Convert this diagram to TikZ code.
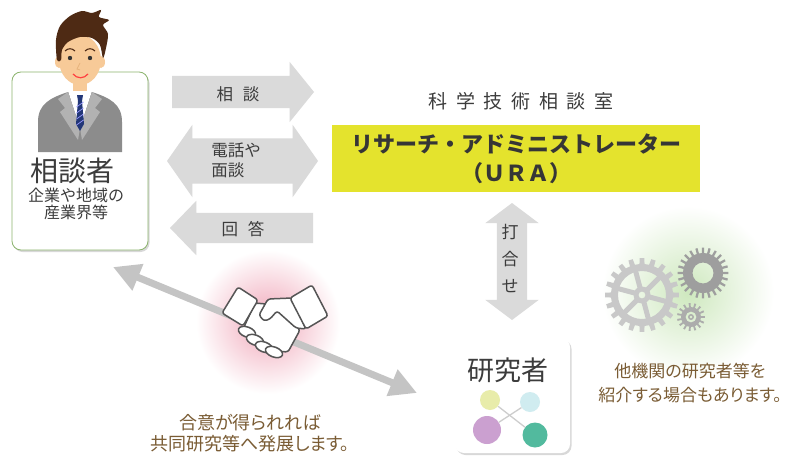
\documentclass[tikz,border=0pt]{standalone}
\usepackage{fontspec}
\setmainfont{Noto Sans CJK JP}
\usetikzlibrary{shapes.arrows,arrows.meta,shadows}

\definecolor{ink}{RGB}{60,60,60}
\definecolor{noteBrown}{RGB}{122,92,52}
\definecolor{arrowGray}{RGB}{218,218,218}
\definecolor{dealGray}{RGB}{196,196,196}
\definecolor{uraYellow}{RGB}{228,227,45}
\definecolor{frameGreen}{RGB}{140,180,110}
\definecolor{glowPink}{RGB}{240,166,184}
\definecolor{glowGreen}{RGB}{206,232,190}
\definecolor{handGray}{RGB}{85,85,85}
\definecolor{gearLight}{RGB}{200,200,200}
\definecolor{gearMid}{RGB}{158,158,158}
\definecolor{gearSmall}{RGB}{172,172,172}
\definecolor{dotYellow}{RGB}{232,236,170}
\definecolor{dotCyan}{RGB}{208,236,240}
\definecolor{dotPurple}{RGB}{203,160,208}
\definecolor{dotTeal}{RGB}{82,186,158}
\definecolor{linkGray}{RGB}{205,205,205}
\definecolor{skin}{RGB}{247,202,152}
\definecolor{hair}{RGB}{78,42,20}
\definecolor{suitGray}{RGB}{140,140,140}
\definecolor{lapelGray}{RGB}{178,178,178}
\definecolor{tieNavy}{RGB}{35,55,120}

\begin{document}
\begin{tikzpicture}[x=1pt,y=-1pt,
  blockarrow/.style={fill=arrowGray,inner xsep=0pt,outer sep=0pt},
  lbl/.style={text=ink,inner sep=0pt,font=\fontsize{16.5}{20}\selectfont},
  note/.style={text=noteBrown,inner sep=0pt,align=center,
    font=\fontsize{18}{21}\selectfont\addfontfeatures{CharacterWidth=AlternateProportional}},
  card/.style={fill=white,rounded corners=9pt,inner sep=0pt,
    drop shadow={opacity=.3,shadow xshift=1.5pt,shadow yshift=-2pt}},
  handline/.style={draw=handGray,fill=white,line width=1.5pt,line join=round,rounded corners=2.5pt},
  blob/.style={circle,inner sep=0pt,minimum size=#1}]

  \fill[white] (0,0) rectangle (789,460);
  \useasboundingbox (0,0) rectangle (789,460);

  % soft glows behind the handshake and the gears
  \shade[inner color=glowPink,outer color=white] (268,322) circle (72);
  \shade[inner color=glowGreen,outer color=white] (688,292) circle (86);

  % client card with the figure
  \node[card,draw=frameGreen,line width=.8pt,minimum width=136pt,minimum height=178pt] (client) at (80,161) {};
  \fill[suitGray] (38,152) -- (38,122) .. controls (38,104) and (50,98) .. (68,92) -- (92,92)
    .. controls (110,98) and (122,104) .. (122,122) -- (122,152) -- cycle;
  \fill[skin] (73,78) rectangle (87,95);
  \fill[white] (68,91) -- (92,91) -- (80,128) -- cycle;
  \fill[lapelGray] (68,92) -- (58,99) -- (65,108) -- (60,112) -- (78,140) -- (80,128) -- cycle;
  \fill[lapelGray] (92,92) -- (102,99) -- (95,108) -- (100,112) -- (82,140) -- (80,128) -- cycle;
  \fill[tieNavy] (77,95) -- (83,95) -- (82,101) -- (78,101) -- cycle;
  \fill[tieNavy] (78,101) -- (82,101) -- (84,124) -- (80,131) -- (76,124) -- cycle;
  \foreach \s in {104,110,116,122}
    \draw[blue!40!white,line width=.7pt] (76.5,\s+3) -- (83.5,\s-2);
  \fill[skin] (59,62) ellipse (4 and 6) (101,62) ellipse (4 and 6);
  \fill[skin] (80,60) ellipse (21 and 25);
  \fill[hair] plot[smooth cycle] coordinates {(57,60) (56,40) (60,26) (70,16) (82,11) (92,13)
    (101,10) (99,17) (109,20) (103,25) (108,34) (106,48) (103,58) (100,45) (92,38) (80,37)
    (68,42) (62,50) (61,60)};
  \fill[black!80] (70,58) circle (2.2) (90,58) circle (2.2);
  \draw[hair,line width=1.1pt] (65,51) .. controls (68,48) and (72,48) .. (75,51);
  \draw[hair,line width=1.1pt] (85,51) .. controls (88,48) and (92,48) .. (95,51);
  \draw[skin!70!brown,line width=.8pt] (80,63) -- (77,69) -- (80,70);
  \draw[red!75!white,line width=1.2pt] (73,74) .. controls (77,79) and (84,79) .. (88,74);
  \node[text=ink,inner sep=0pt,font=\fontsize{28}{30}\selectfont] (clientname) at (72,171) {相談者};
  \node[lbl,align=center,font=\fontsize{16}{17}\selectfont] (clientsub) at (76,203.5) {企業や地域の\\産業界等};

  % block arrows between client and office
  \node[blockarrow,single arrow,inner ysep=16pt,single arrow head extend=14pt,single arrow tip angle=102,
    minimum width=60pt,minimum height=142pt,anchor=tail] (askarrow) at (172,92) {};
  \node[blockarrow,double arrow,inner ysep=22.5pt,double arrow head extend=13.5pt,double arrow tip angle=110,
    minimum width=72pt,minimum height=151pt] (talkarrow) at (242.5,161) {};
  \node[blockarrow,single arrow,shape border rotate=180,inner ysep=15pt,single arrow head extend=12pt,
    single arrow tip angle=92,minimum width=54pt,minimum height=143pt,anchor=tip] (replyarrow) at (170,228) {};
  \node[lbl] (asktext) at (238,94) {相\hspace{.6em}談};
  \node[lbl,align=left] (talktext) at (236,160) {電話や\\面談};
  \node[lbl] (replytext) at (243,229) {回\hspace{.6em}答};

  % office and URA
  \node[text=ink,inner sep=0pt,font=\fontsize{19}{22}\selectfont\addfontfeatures{LetterSpace=45}]
    (office) at (521,101) {科学技術相談室};
  \node[fill=uraYellow,inner sep=0pt,minimum width=368pt,minimum height=67pt,align=center,
    text=ink!90!black,font=\fontsize{22}{29}\selectfont\bfseries] (ura) at (516,158.5)
    {リサーチ・アドミニストレーター\\（ＵＲＡ）};

  % meeting arrow
  \node[blockarrow,double arrow,rotate=90,inner ysep=15pt,double arrow head extend=11.5pt,
    double arrow tip angle=106,minimum width=53pt,minimum height=117pt] (mtgarrow) at (512,261.5) {};
  \node[lbl,align=center,font=\fontsize{17}{27}\selectfont] (mtgtext) at (510,259) {打\\合\\せ};

  % researcher card
  \node[card,minimum width=115pt,minimum height=115pt] (researcher) at (512.5,395.5) {};
  \node[text=ink,inner sep=0pt,font=\fontsize{27}{30}\selectfont] (restext) at (508,370) {研究者};
  \node[blob=20pt,fill=dotYellow] (dotA) at (490,400) {};
  \node[blob=20pt,fill=dotCyan] (dotB) at (530,402) {};
  \node[blob=28pt,fill=dotPurple] (dotC) at (487,430) {};
  \node[blob=25pt,fill=dotTeal] (dotD) at (535,435) {};
  \draw[linkGray,line width=1.3pt] (dotA) -- (dotD);
  \draw[linkGray,line width=1.3pt] (dotB) -- (dotC);

  % agreement arrow with handshake
  \coordinate (dealL) at (113,267);
  \coordinate (dealR) at (417,393);
  \draw[dealGray,line width=7pt,{Triangle[length=27pt,width=27pt]}-{Triangle[length=27pt,width=27pt]}]
    (dealL) -- (dealR);
  \draw[handline] (255,303) -- (277,305) -- (300,330) -- (288,352) -- (262,350) -- (244,327) -- cycle;
  \foreach \fx/\fy in {247/332,255/340,264/347,274/352}
    \draw[handline,rounded corners=0pt,rotate around={-20:(\fx,\fy)}] (\fx,\fy) ellipse (9 and 5);
  \draw[handline] (292,298) -- (268,299) -- (259,315) -- (264,321) -- (270,319) -- (277,311)
    -- (296,328) -- (306,329) -- cycle;
  \draw[handline] (222,313) -- (238,287) -- (258,300) -- (243,326) -- cycle;
  \draw[handline] (290,298) -- (312,285) -- (328,316) -- (306,329) -- cycle;
  \node[note] (dealnote) at (250,433) {合意が得られれば\\共同研究等へ発展します。};

  % gears
  \fill[gearLight,even odd rule] (642,295) circle (31) (642,295) circle (24);
  \foreach \a in {0,18,...,342}
    \fill[gearLight,shift={(642,295)}] (\a-5:30) -- (\a-3.5:37) -- (\a+3.5:37) -- (\a+5:30) -- cycle;
  \foreach \a in {15,75,...,315}
    \draw[gearLight,line width=5pt,shift={(642,295)}] (\a:7) -- (\a:26);
  \fill[gearLight,even odd rule] (642,295) circle (8.5) (642,295) circle (3.5);
  \fill[gearMid,even odd rule] (703,273) circle (20) (703,273) circle (10.5);
  \foreach \a in {0,15,...,345}
    \fill[gearMid,shift={(703,273)}] (\a-3.5:19) -- (\a-2.5:25.5) -- (\a+2.5:25.5) -- (\a+3.5:19) -- cycle;
  \fill[gearSmall,even odd rule] (691,317) circle (10) (691,317) circle (5.5);
  \fill[gearSmall,even odd rule] (691,317) circle (3) (691,317) circle (1.6);
  \foreach \a in {0,24,...,336}
    \fill[gearSmall,shift={(691,317)}] (\a-5:9.5) -- (\a-4:14) -- (\a+4:14) -- (\a+5:9.5) -- cycle;
  \node[note,font=\fontsize{17}{24}\selectfont\addfontfeatures{CharacterWidth=AlternateProportional}]
    (gearnote) at (690,383) {他機関の研究者等を\\紹介する場合もあります。};
\end{tikzpicture}
\end{document}
